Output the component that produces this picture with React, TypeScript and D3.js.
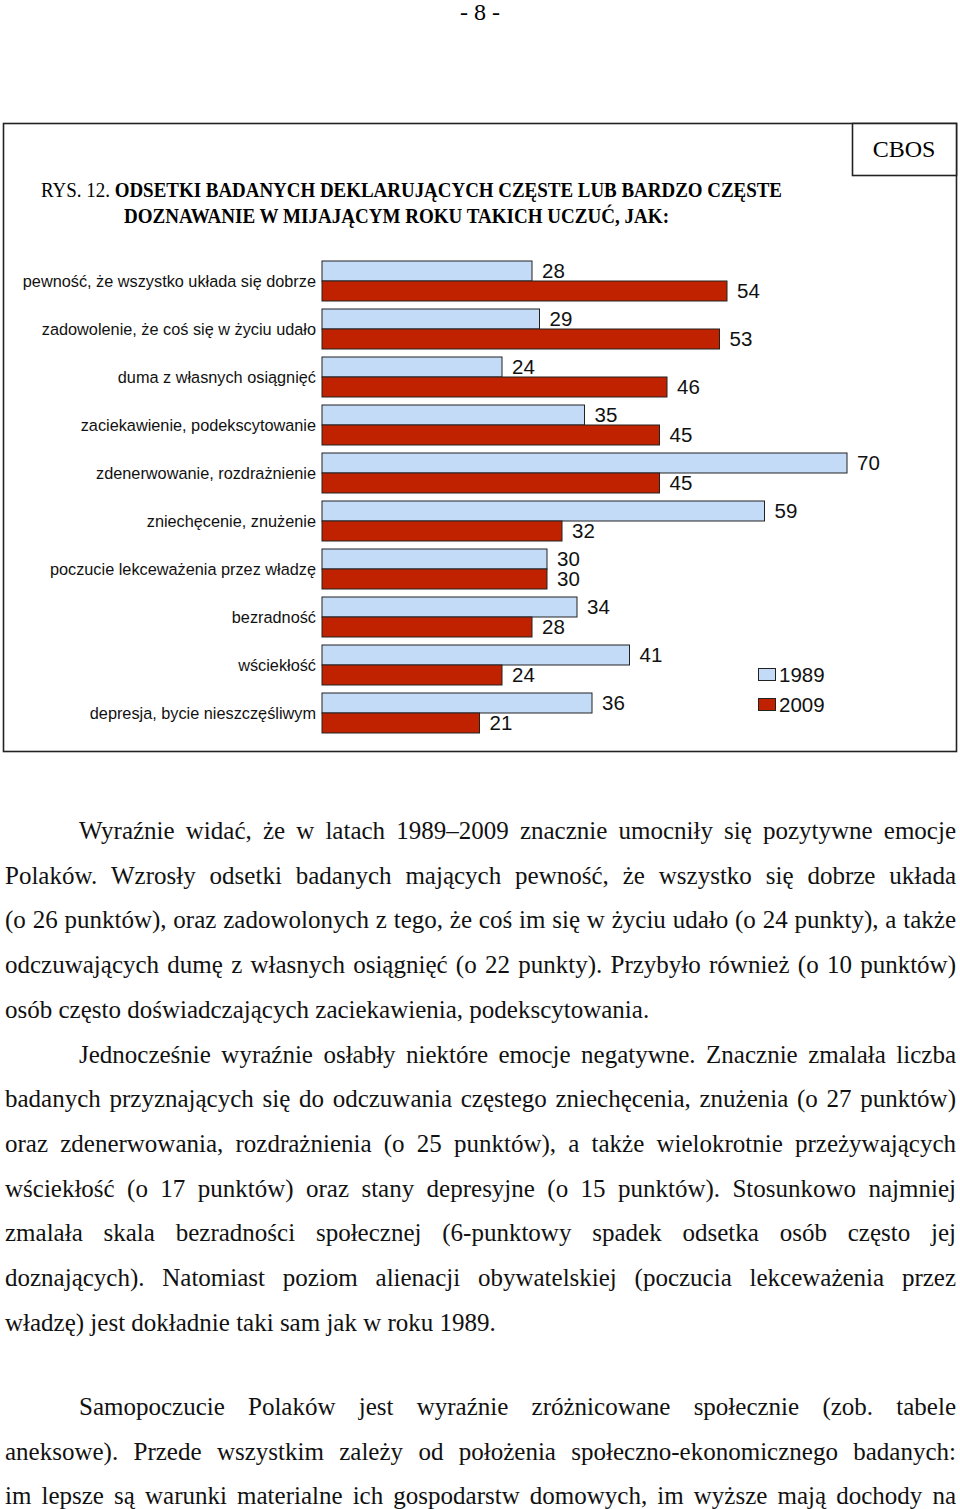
import React, { useMemo } from 'react';
import * as d3 from 'd3';

const categories = [
  'pewność, że wszystko układa się dobrze',
  'zadowolenie, że coś się w życiu udało',
  'duma z własnych osiągnięć',
  'zaciekawienie, podekscytowanie',
  'zdenerwowanie, rozdrażnienie',
  'zniechęcenie, znużenie',
  'poczucie lekceważenia przez władzę',
  'bezradność',
  'wściekłość',
  'depresja, bycie nieszczęśliwym',
];
const values1989 = [28, 29, 24, 35, 70, 59, 30, 34, 41, 36];
const values2009 = [54, 53, 46, 45, 45, 32, 30, 28, 24, 21];
const seriesNames = ['1989', '2009'];

// body text, line by line as in the page; [text, indent, justify]
const bodyLines: [string, boolean, boolean][] = [
  ['Wyraźnie widać, że w latach 1989–2009 znacznie umocniły się pozytywne emocje', true, true],
  ['Polaków. Wzrosły odsetki badanych mających pewność, że wszystko się dobrze układa', false, true],
  ['(o 26 punktów), oraz zadowolonych z tego, że coś im się w życiu udało (o 24 punkty), a także', false, true],
  ['odczuwających dumę z własnych osiągnięć (o 22 punkty). Przybyło również (o 10 punktów)', false, true],
  ['osób często doświadczających zaciekawienia, podekscytowania.', false, false],
  ['Jednocześnie wyraźnie osłabły niektóre emocje negatywne. Znacznie zmalała liczba', true, true],
  ['badanych przyznających się do odczuwania częstego zniechęcenia, znużenia (o 27 punktów)', false, true],
  ['oraz zdenerwowania, rozdrażnienia (o 25 punktów), a także wielokrotnie przeżywających', false, true],
  ['wściekłość (o 17 punktów) oraz stany depresyjne (o 15 punktów). Stosunkowo najmniej', false, true],
  ['zmalała skala bezradności społecznej (6-punktowy spadek odsetka osób często jej', false, true],
  ['doznających). Natomiast poziom alienacji obywatelskiej (poczucia lekceważenia przez', false, true],
  ['władzę) jest dokładnie taki sam jak w roku 1989.', false, false],
];
const bodyLines2: [string, boolean, boolean][] = [
  ['Samopoczucie Polaków jest wyraźnie zróżnicowane społecznie (zob. tabele', true, true],
  ['aneksowe). Przede wszystkim zależy od położenia społeczno-ekonomicznego badanych:', false, true],
  ['im lepsze są warunki materialne ich gospodarstw domowych, im wyższe mają dochody na', false, true],
];

const SERIF = '"Liberation Serif", "Times New Roman", serif';
const SANS = '"Liberation Sans", Arial, sans-serif';
const BODY_SIZE = 25;

const blue = '#c4dbf8';
const red = '#c02200';

function useJustified(lines: [string, boolean, boolean][], top: number, step: number) {
  return useMemo(() => {
    const ctx = document.createElement('canvas').getContext('2d')!;
    ctx.font = `${BODY_SIZE}px "Liberation Serif"`;
    const left = 5, right = 956, indent = 79;
    const out: { x: number; y: number; w: string }[] = [];
    lines.forEach(([txt, ind, just], i) => {
      const words = txt.split(' ');
      const start = ind ? indent : left;
      const widths = words.map(w => ctx.measureText(w).width);
      const total = d3.sum(widths);
      const gap = just && words.length > 1
        ? (right - start - total) / (words.length - 1)
        : ctx.measureText(' ').width;
      let x = start;
      words.forEach((w, j) => {
        out.push({ x, y: top + i * step, w });
        x += widths[j] + gap;
      });
    });
    return out;
  }, [lines, top, step]);
}

const Chart: React.FC = () => {
  const x = d3.scaleLinear().domain([0, 70]).range([322, 847]);
  const y = d3.scaleBand().domain(categories).range([257, 737]).paddingInner(1 / 6).paddingOuter(1 / 12);
  const half = y.bandwidth() / 2;

  const words1 = useJustified(bodyLines, 839, 44.7);
  const words2 = useJustified(bodyLines2, 1415, 44.7);

  return (
    <svg width={960} height={1509} style={{ display: 'block', background: '#fff' }}>
      <text x={480} y={20} textAnchor="middle" fontFamily={SERIF} fontSize={24}>- 8 -</text>

      {/* frame */}
      <rect x={3.5} y={123.5} width={953} height={628} fill="none" stroke="#222" strokeWidth={1.6} />
      <rect x={852.5} y={123.5} width={104} height={52} fill="#fff" stroke="#222" strokeWidth={1.6} />
      <text x={904} y={157} textAnchor="middle" fontFamily={SERIF} fontSize={24}>CBOS</text>

      <text x={41} y={197} fontFamily={SERIF} fontSize={20} textLength={741} lengthAdjust="spacingAndGlyphs">
        <tspan>RYS. 12. </tspan>
        <tspan fontWeight="bold">ODSETKI BADANYCH DEKLARUJĄCYCH CZĘSTE LUB BARDZO CZĘSTE</tspan>
      </text>
      <text x={124} y={223} fontFamily={SERIF} fontSize={20} fontWeight="bold" textLength={545} lengthAdjust="spacingAndGlyphs">
        DOZNAWANIE W MIJAJĄCYM ROKU TAKICH UCZUĆ, JAK:
      </text>

      {/* bars */}
      {categories.map((c, i) => {
        const y0 = y(c)!;
        return (
          <g key={c}>
            <text x={316} y={y0 + half} dy="0.35em" textAnchor="end" fontFamily={SANS} fontSize={16.3} fill="#111">{c}</text>
            <rect x={x(0)} y={y0} width={x(values1989[i]) - x(0)} height={half} fill={blue} stroke="#222" strokeWidth={1} />
            <rect x={x(0)} y={y0 + half} width={x(values2009[i]) - x(0)} height={half} fill={red} stroke="#222" strokeWidth={1} />
            <text x={x(values1989[i]) + 10} y={y0 + half / 2} dy="0.36em" fontFamily={SANS} fontSize={20.5} fill="#111">{values1989[i]}</text>
            <text x={x(values2009[i]) + 10} y={y0 + half * 1.5} dy="0.36em" fontFamily={SANS} fontSize={20.5} fill="#111">{values2009[i]}</text>
          </g>
        );
      })}

      {/* legend */}
      {seriesNames.map((s, i) => (
        <g key={s} transform={`translate(758, ${668 + i * 30})`}>
          <rect x={0.5} y={0.5} width={17} height={12} fill={i === 0 ? blue : red} stroke="#222" strokeWidth={1} />
          <text x={21} y={6.5} dy="0.36em" fontFamily={SANS} fontSize={20.5} fill="#111">{s}</text>
        </g>
      ))}

      {/* body text */}
      {[...words1, ...words2].map((w, i) => (
        <text key={i} x={w.x} y={w.y} fontFamily={SERIF} fontSize={BODY_SIZE} fill="#111">{w.w}</text>
      ))}
    </svg>
  );
};

export default function App() {
  return (
    <div style={{ position: 'absolute', left: 0, top: 0 }}>
      <Chart />
    </div>
  );
}
